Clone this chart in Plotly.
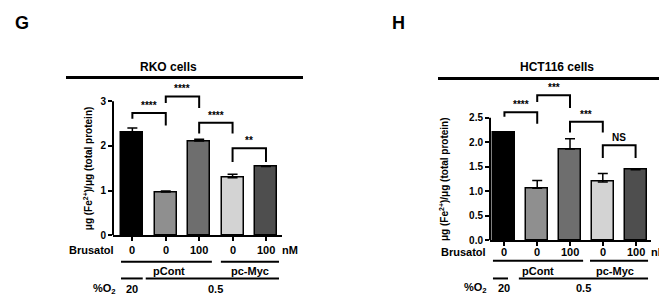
import plotly.graph_objects as go

W, H = 667, 299
FONT = "Liberation Sans, Arial, sans-serif"

brusatol = ["0", "0", "100", "0", "100"]
bar_colors = ["#000000", "#8f8f8f", "#6e6e6e", "#d3d3d3", "#4e4e4e"]

rko_vals = [2.30, 0.97, 2.11, 1.29, 1.54]
rko_err = [0.10, 0.02, 0.04, 0.08, 0.02]
rko_ticks = [0, 1, 2, 3]
rko_ticktext = ["0", "1", "2", "3"]
rko_brackets = [
    (0, 1, 2.74, 2.61, 2.46, "****"),
    (1, 2, 3.11, 2.96, 2.85, "****"),
    (2, 3, 2.52, 2.28, 2.28, "****"),
    (3, 4, 1.95, 1.64, 1.64, "**"),
]

hct_vals = [2.19, 1.06, 1.86, 1.19, 1.44]
hct_err = [0.01, 0.16, 0.21, 0.17, 0.02]
hct_ticks = [0, 0.5, 1.0, 1.5, 2.0, 2.5]
hct_ticktext = ["0.0", "0.5", "1.0", "1.5", "2.0", "2.5"]
hct_brackets = [
    (0, 1, 2.61, 2.52, 2.38, "****"),
    (1, 2, 2.96, 2.82, 2.70, "***"),
    (2, 3, 2.42, 2.20, 2.20, "***"),
    (3, 4, 1.94, 1.68, 1.68, "NS"),
]

def px(x):
    return x / W

def py(y):
    return 1 - y / H

panels = [
    dict(name="RKO cells", letter="G", letter_x=14, vals=rko_vals, err=rko_err,
         ticks=rko_ticks, ticktext=rko_ticktext, ymax_axis=3, brackets=rko_brackets,
         ax_px=(105, 274), xrange=[-0.58, 4.48], y0px=232, ppu=45.6, yrange=[0, 3.4],
         width=0.66, title_x=160, tline=(58, 295, 71), ytitle_x=80, ytitle_y=163.5,
         rows=dict(brus=247, l1=259, grp=268, l2=276, o2=287),
         pcont_line=(-0.34, 2.38), myc_line=(2.65, 4.39), o2a=(-0.34, 0.31), o2b=(0.40, 4.39),
         pcont_x=1.09, myc_x=3.52, o2_20=0.0, o2_05=2.5,
         nm_px=292, brus_px=108, o2_px=110),
    dict(name="HCT116 cells", letter="H", letter_x=390, vals=hct_vals, err=hct_err,
         ticks=hct_ticks, ticktext=hct_ticktext, ymax_axis=2.5, brackets=hct_brackets,
         ax_px=(482, 643), xrange=[-0.44, 4.47], y0px=237, ppu=50, yrange=[0, 3.2],
         width=0.67, title_x=549, tline=(430, 667, 72), ytitle_x=436, ytitle_y=174.5,
         rows=dict(brus=249, l1=258, grp=268, l2=276, o2=286),
         pcont_line=(-0.35, 2.40), myc_line=(2.61, 4.38), o2a=(-0.35, 0.11), o2b=(0.44, 4.38),
         pcont_x=1.02, myc_x=3.37, o2_20=0.0, o2_05=2.4,
         nm_px=661, brus_px=480, o2_px=481),
]

fig = go.Figure()
shapes = []
annotations = []

for i, p in enumerate(panels):
    xa = "x" if i == 0 else "x2"
    ya = "y" if i == 0 else "y2"
    xkey = "xaxis" if i == 0 else "xaxis2"
    ykey = "yaxis" if i == 0 else "yaxis2"
    top_px = p["y0px"] - p["ppu"] * p["yrange"][1]
    fig.add_trace(go.Bar(
        x=list(range(5)), y=p["vals"], xaxis=xa, yaxis=ya, width=p["width"],
        marker=dict(color=bar_colors, line=dict(color="black", width=1.5)),
        error_y=dict(type="data", array=p["err"], arrayminus=[0] * 5, symmetric=False,
                     color="black", thickness=1.5, width=5),
        showlegend=False, hoverinfo="skip",
    ))
    fig.layout[xkey] = dict(domain=[px(p["ax_px"][0]), px(p["ax_px"][1])], range=p["xrange"],
                            anchor=ya, showline=True, linecolor="black", linewidth=2,
                            ticks="outside", ticklen=4, tickwidth=1.5, tickcolor="black",
                            tickvals=list(range(5)), showticklabels=False, showgrid=False,
                            zeroline=False, fixedrange=True)
    fig.layout[ykey] = dict(domain=[py(p["y0px"]), py(top_px)], range=p["yrange"], anchor=xa,
                            showline=False, ticks="outside", ticklen=4, tickwidth=1.5,
                            tickcolor="black", tickvals=p["ticks"], ticktext=p["ticktext"],
                            tickfont=dict(family=FONT, size=10, color="black", weight="bold"),
                            showgrid=False, zeroline=False, fixedrange=True)
    # y-axis line from 0 to top tick
    shapes.append(dict(type="line", xref=xa + " domain", yref=ya, x0=0, x1=0, y0=0,
                       y1=p["ymax_axis"], line=dict(color="black", width=2)))
    # brackets
    for (a, b, yh, yl, yr, lab) in p["brackets"]:
        shapes.append(dict(type="path", xref=xa, yref=ya,
                           path=f"M {a},{yl} L {a},{yh} L {b},{yh} L {b},{yr}",
                           line=dict(color="black", width=2)))
        annotations.append(dict(x=(a + b) / 2, y=yh, xref=xa, yref=ya, text=lab,
                                showarrow=False, yanchor="bottom", yshift=0,
                                font=dict(family=FONT, size=10, color="black", weight="bold")))
    # title + thick line
    annotations.append(dict(x=px(p["title_x"]), y=py(60), xref="paper", yref="paper",
                            text=p["name"], showarrow=False, xanchor="center", yanchor="middle",
                            font=dict(family=FONT, size=12, color="black", weight="bold")))
    t0, t1, ty = p["tline"]
    shapes.append(dict(type="line", xref="paper", yref="paper", x0=px(t0), x1=px(t1),
                       y0=py(ty), y1=py(ty), line=dict(color="black", width=3)))
    # panel letter
    annotations.append(dict(x=px(p["letter_x"]), y=py(15), xref="paper", yref="paper",
                            text=p["letter"], showarrow=False, xanchor="center", yanchor="middle",
                            font=dict(family=FONT, size=18, color="black", weight="bold")))
    # y title
    annotations.append(dict(x=px(p["ytitle_x"]), y=py(p["ytitle_y"]), xref="paper", yref="paper",
                            text="μg (Fe<sup>2+</sup>)/μg (total protein)", textangle=-90,
                            showarrow=False, xanchor="center", yanchor="middle",
                            font=dict(family=FONT, size=10, color="black", weight="bold")))
    r = p["rows"]
    lf = dict(family=FONT, size=11, color="black", weight="bold")
    annotations.append(dict(x=px(p["brus_px"]), y=py(r["brus"]), xref="paper", yref="paper",
                            text="Brusatol", showarrow=False, xanchor="right", yanchor="middle", font=lf))
    for k, t in enumerate(brusatol):
        annotations.append(dict(x=k, y=py(r["brus"]), xref=xa, yref="paper", text=t,
                                showarrow=False, xanchor="center", yanchor="middle", font=lf))
    annotations.append(dict(x=px(p["nm_px"]), y=py(r["brus"]), xref="paper", yref="paper", text="nM",
                            showarrow=False, xanchor="right", yanchor="middle", font=lf))
    for (x0, x1), yy in [(p["pcont_line"], r["l1"]), (p["myc_line"], r["l1"]),
                         (p["o2a"], r["l2"]), (p["o2b"], r["l2"])]:
        shapes.append(dict(type="line", xref=xa, yref="paper", x0=x0, x1=x1, y0=py(yy), y1=py(yy),
                           line=dict(color="black", width=2)))
    annotations.append(dict(x=p["pcont_x"], y=py(r["grp"]), xref=xa, yref="paper", text="pCont",
                            showarrow=False, xanchor="center", yanchor="middle", font=lf))
    annotations.append(dict(x=p["myc_x"], y=py(r["grp"]), xref=xa, yref="paper", text="pc-Myc",
                            showarrow=False, xanchor="center", yanchor="middle", font=lf))
    annotations.append(dict(x=px(p["o2_px"]), y=py(r["o2"]), xref="paper", yref="paper",
                            text="%O<sub>2</sub>", showarrow=False, xanchor="right",
                            yanchor="middle", font=lf))
    annotations.append(dict(x=p["o2_20"], y=py(r["o2"]), xref=xa, yref="paper", text="20",
                            showarrow=False, xanchor="center", yanchor="middle", font=lf))
    annotations.append(dict(x=p["o2_05"], y=py(r["o2"]), xref=xa, yref="paper", text="0.5",
                            showarrow=False, xanchor="center", yanchor="middle", font=lf))

fig.update_layout(width=W, height=H, margin=dict(l=0, r=0, t=0, b=0),
                  paper_bgcolor="white", plot_bgcolor="white",
                  shapes=shapes, annotations=annotations, bargap=0)
fig.write_html("out.html", config={"displayModeBar": False})
